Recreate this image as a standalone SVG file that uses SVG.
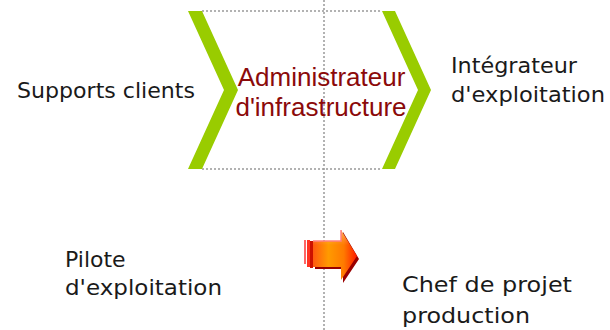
<svg xmlns="http://www.w3.org/2000/svg" width="610" height="330" viewBox="0 0 610 330">
<defs>
<style>
.lbl{font-family:"DejaVu Sans",sans-serif;font-size:22px;fill:#1a1a1a}
.main{font-family:"Liberation Sans",Arial,sans-serif;font-size:26px;fill:#8b0a0a;text-anchor:middle}
.chev{fill:#99cc00}
.dot{stroke:#999;stroke-width:1.5;stroke-dasharray:2,2;fill:none}
</style>
<linearGradient id="ag" x1="0" y1="0" x2="1" y2="0">
<stop offset="0" stop-color="#ff5a10"/>
<stop offset="0.35" stop-color="#ff9a00"/>
<stop offset="0.7" stop-color="#ff7a00"/>
<stop offset="1" stop-color="#ff1a00"/>
</linearGradient>
<linearGradient id="av" x1="0" y1="0" x2="0" y2="1">
<stop offset="0" stop-color="#ffffff" stop-opacity="0.35"/>
<stop offset="0.3" stop-color="#ffffff" stop-opacity="0"/>
<stop offset="1" stop-color="#ffffff" stop-opacity="0"/>
</linearGradient>
</defs>
<rect width="610" height="330" fill="#fff"/>
<g id="guides">
<line class="dot" x1="324" y1="0" x2="324" y2="330"/>
<line class="dot" x1="202" y1="11" x2="382" y2="11"/>
<line class="dot" x1="202" y1="169" x2="382" y2="169"/>
</g>
<g id="chevron-left">
<polygon class="chev" points="188,11 202,11 238,90 202,169 188,169 224,90"/>
</g>
<g id="chevron-right">
<polygon class="chev" points="382,11 395,11 431,90 395,169 382,169 418,90"/>
</g>
<g id="node-admin">
<text class="main" x="321.5" y="86">Administrateur</text>
<text class="main" x="321" y="116">d'infrastructure</text>
</g>
<g id="node-supports">
<text class="lbl" x="17" y="98" textLength="178" lengthAdjust="spacingAndGlyphs">Supports clients</text>
</g>
<g id="node-integrateur">
<text class="lbl" x="451" y="73" textLength="126" lengthAdjust="spacingAndGlyphs">Intégrateur</text>
<text class="lbl" x="451" y="102" textLength="154" lengthAdjust="spacingAndGlyphs">d'exploitation</text>
</g>
<g id="node-pilote">
<text class="lbl" x="65" y="267">Pilote</text>
<text class="lbl" x="65" y="295" textLength="157" lengthAdjust="spacingAndGlyphs">d'exploitation</text>
</g>
<g id="node-chef">
<text class="lbl" x="402" y="292" textLength="170" lengthAdjust="spacingAndGlyphs">Chef de projet</text>
<text class="lbl" x="402" y="323" textLength="128" lengthAdjust="spacingAndGlyphs">production</text>
</g>
<g id="connectors">
<rect x="304" y="240" width="2" height="24" fill="#ff6666"/>
<rect x="307" y="240" width="3" height="27" fill="#ff3322"/>
<rect x="310" y="241" width="3" height="27" fill="#cc1100"/>
<polygon points="315,243 343,243 343,232 359,259 343,283 343,269 315,269" fill="#990000"/>
<polygon points="313,241 341,241 341,230 357,256 341,280 341,267 313,267" fill="url(#ag)"/>
<polygon points="313,241 341,241 341,230 357,256 341,280 341,267 313,267" fill="url(#av)"/>
<polyline points="313,241 341,241 341,230" fill="none" stroke="#ff8080" stroke-width="1.5"/>
</g>
</svg>
